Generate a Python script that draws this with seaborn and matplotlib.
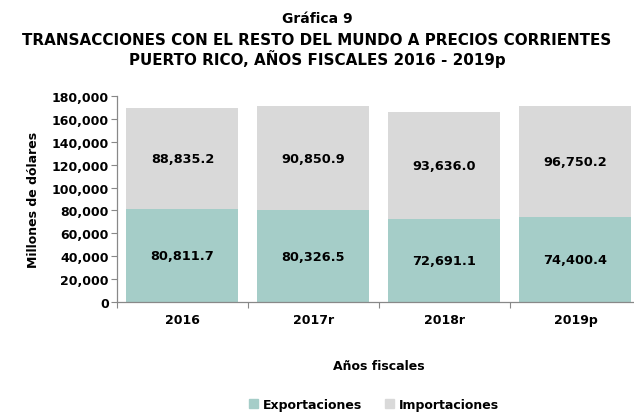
import numpy as np
import pandas as pd
import matplotlib
matplotlib.use('Agg')
import matplotlib.pyplot as plt
import seaborn as sns
from matplotlib.patches import Patch
from matplotlib.ticker import FuncFormatter

years = ['2016', '2017r', '2018r', '2019p']
exportaciones = [80811.7, 80326.5, 72691.1, 74400.4]
importaciones = [88835.2, 90850.9, 93636.0, 96750.2]

teal = '#A5CDC8'
gray = '#D9D9D9'

sns.set_style('white', {'xtick.bottom': True, 'ytick.left': True,
                        'text.color': 'black', 'axes.labelcolor': 'black',
                        'xtick.color': 'black', 'ytick.color': 'black'})
plt.rcParams['font.family'] = ['DejaVu Sans']
plt.rcParams['font.weight'] = 'bold'

df = pd.DataFrame({'year': years, 'exp': exportaciones, 'imp': importaciones})

fig = plt.figure(figsize=(6.34, 4.14), dpi=100)
ax = fig.add_axes([0.1845, 0.268, 0.8265, 0.498])

sns.barplot(data=df, x='year', y='exp', color=teal, width=0.855, ax=ax,
            saturation=1, linewidth=0)
sns.barplot(data=df, x='year', y='imp', color=gray, width=0.855, ax=ax,
            saturation=1, linewidth=0, bottom=df['exp'])

for cont, vals in zip(ax.containers, [exportaciones, importaciones]):
    ax.bar_label(cont, labels=[f'{v:,.1f}' for v in vals], label_type='center',
                 fontsize=9.3, fontweight='bold', color='black')

ax.set_ylim(0, 180000)
ax.set_yticks(np.arange(0, 180001, 20000))
ax.yaxis.set_major_formatter(FuncFormatter(lambda v, p: f'{int(v):,}'))
ax.set_xlim(-0.5, 3.5)
ax.set_xticks([-0.5, 0.5, 1.5, 2.5, 3.5], minor=False)
ax.set_xticklabels([])
ax.set_xticks([0, 1, 2, 3], minor=True)
ax.set_xticklabels(years, minor=True)
ax.tick_params(axis='x', which='minor', length=0, pad=8, labelsize=9,
               labelcolor='black', bottom=True)
ax.tick_params(axis='x', which='major', length=4, color='#888888',
               direction='out', bottom=True)
ax.tick_params(axis='y', length=4, color='#888888', labelsize=9, pad=2,
               labelcolor='black', left=True, direction='out')
for lab in ax.get_xticklabels(minor=True) + ax.get_yticklabels():
    lab.set_fontweight('bold')

for s in ['top', 'right']:
    ax.spines[s].set_visible(False)
for s in ['left', 'bottom']:
    ax.spines[s].set_color('#888888')
    ax.spines[s].set_linewidth(0.9)

ax.set_xlabel('Años fiscales', fontsize=9, fontweight='bold', labelpad=24, color='black')
ax.set_ylabel('Millones de dólares', fontsize=9, fontweight='bold', labelpad=8, color='black')

fig.text(0.5, 0.955, 'Gráfica 9', ha='center', va='center', fontsize=10,
         fontweight='bold', color='black')
fig.text(0.5, 0.903, 'TRANSACCIONES CON EL RESTO DEL MUNDO A PRECIOS CORRIENTES',
         ha='center', va='center', fontsize=10.9, fontweight='bold', color='black')
fig.text(0.5, 0.857, 'PUERTO RICO, AÑOS FISCALES 2016 - 2019p',
         ha='center', va='center', fontsize=10.9, fontweight='bold', color='black')

handles = [Patch(color=teal, label='Exportaciones'), Patch(color=gray, label='Importaciones')]
fig.legend(handles=handles, loc='center', bbox_to_anchor=(0.59, 0.02), ncol=2,
           frameon=False, handlelength=0.7, handleheight=0.7,
           columnspacing=1.8, handletextpad=0.4, labelcolor='black',
           prop={'weight': 'bold', 'size': 9})

fig.savefig('out.png', dpi=100)
